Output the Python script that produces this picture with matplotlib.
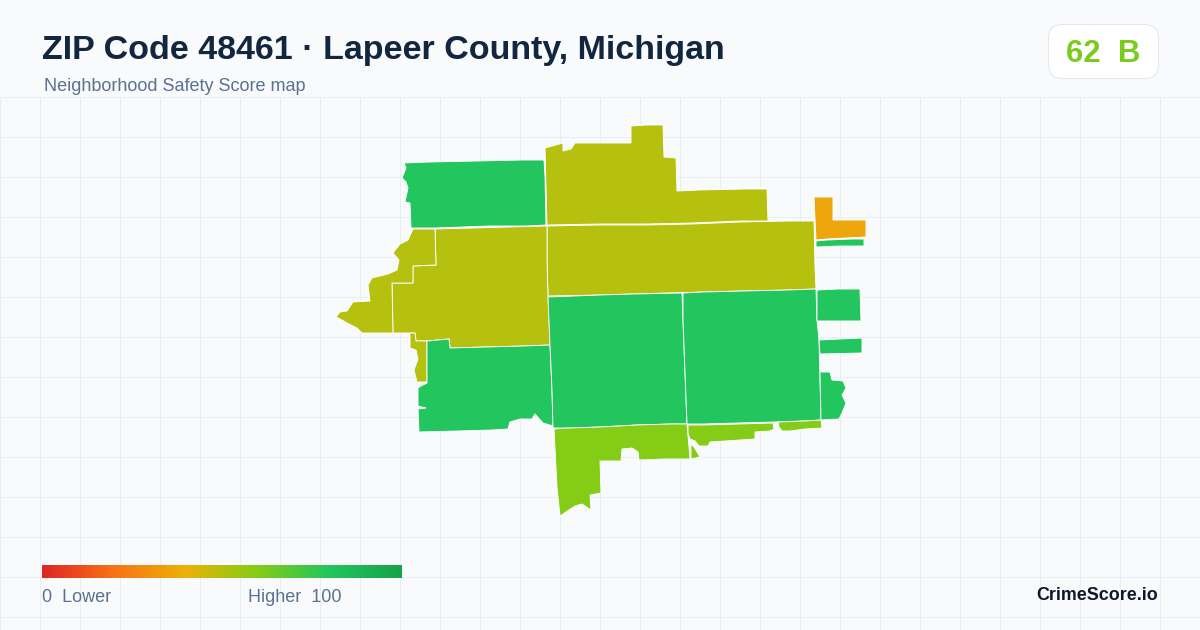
import numpy as np
import matplotlib
matplotlib.use("Agg")
import matplotlib.pyplot as plt
from matplotlib.colors import LinearSegmentedColormap
from matplotlib.patches import FancyBboxPatch, Polygon

TITLE = "ZIP Code 48461 · Lapeer County, Michigan"
SUBTITLE = "Neighborhood Safety Score map"
SCORE = 62
GRADE = "B"
BRAND = "CrimeScore.io"
SCALE_LOW = "0  Lower"
SCALE_HIGH = "Higher  100"
SCALE_COLORS = ["#dc2626", "#f97316", "#eab308", "#84cc16", "#22c55e", "#16a34a"]

# Map geometry (image pixel coordinates)
area_nw = [(404,163),(430,162),(476,161),(522,160),(544,160),(545,177),(546,225),(527,226),(490,226),(435,228),(411,228),(410,203),(405,202),(408,188),(406,182),(402,178),(406,168)]
area_n = [(545,148),(563,143),(563,151),(571,149),(575,143),(631,143),(631,126),(647,125),(663,125),(664,157),(676,158),(677,191),(700,190),(745,189),(767,189),(768,221),(740,221),(692,223),(647,224),(600,224),(547,225)]
area_ne_mid = [(547,226),(600,225),(647,225),(692,224),(740,222),(790,221),(814,221),(815,267),(816,289),(788,290),(743,291),(703,292),(668,293),(633,294),(600,295),(548,296),(547,263)]
area_w_mid = [(435,229),(547,226),(547,260),(548,296),(550,345),(524,346),(486,347),(450,348),(449,339),(427,341),(416,341),(415,333),(393,333),(392,283),(413,283),(413,266),(436,265)]
area_w = [(413,229),(435,229),(436,265),(413,266),(413,283),(392,283),(393,333),(362,333),(357,328),(347,323),(342,320),(336,317),(340,312),(347,311),(353,302),(370,301),(368,285),(372,278),(388,274),(397,270),(399,260),(393,253),(400,244),(408,240)]
area_strip = [(410,333),(415,333),(416,341),(427,341),(427,382),(417,382),(414,370),(418,359),(416,350),(410,348)]
area_sw = [(427,341),(449,339),(450,348),(486,347),(524,346),(550,345),(552,390),(553,426),(543,423),(535,414),(532,419),(520,419),(510,422),(508,429),(492,430),(458,431),(419,432),(418,409),(426,408),(418,406),(418,388),(421,386),(427,383)]
area_c = [(548,297),(600,295),(633,294),(682,293),(683,320),(687,424),(671,424),(637,425),(600,427),(570,428),(553,428),(552,390),(550,345)]
area_e = [(683,293),(703,292),(743,291),(788,290),(816,289),(817,320),(819,340),(821,420),(805,421),(773,422),(738,423),(704,424),(687,424),(683,320)]
area_s = [(554,429),(570,428),(600,427),(637,425),(671,424),(687,424),(690,459),(664,459),(639,460),(638,452),(632,448),(622,449),(621,461),(600,461),(601,493),(590,495),(591,510),(582,504),(575,506),(560,516),(557,487)]
area_se1 = [(688,425),(704,425),(738,424),(773,423),(774,429),(770,431),(755,432),(755,439),(710,442),(708,446),(699,446),(695,441),(690,439),(688,433)]
area_se1b = [(691,444),(694,447),(700,457),(691,459)]
area_se2 = [(778,422),(805,421),(821,420),(822,428),(805,429),(790,431),(782,431),(779,427)]
area_e_blob = [(820,372),(830,372),(832,380),(843,381),(846,388),(842,395),(846,403),(842,413),(839,419),(821,420)]
area_e_bar1 = [(819,340),(840,339),(862,338),(862,353),(820,354)]
area_e_bar2 = [(817,290),(838,289),(860,289),(861,321),(817,321)]
area_e_thin = [(816,241),(827,240),(852,239),(864,239),(864,246),(840,246),(816,247)]
area_ne = [(814,197),(833,197),(833,220),(866,220),(866,237),(827,239),(816,240)]

OLIVE, LIME, GREEN, ORANGE = 50, 60, 80, 36
areas = [
    (area_nw, GREEN), (area_n, OLIVE), (area_ne_mid, OLIVE), (area_w_mid, OLIVE),
    (area_w, OLIVE), (area_strip, OLIVE), (area_sw, GREEN), (area_c, GREEN),
    (area_e, GREEN), (area_s, LIME), (area_se1, LIME), (area_se1b, LIME),
    (area_se2, LIME), (area_e_blob, GREEN), (area_e_bar1, GREEN),
    (area_e_bar2, GREEN), (area_e_thin, GREEN), (area_ne, ORANGE),
]

plt.rcParams["font.family"] = ["Liberation Sans", "DejaVu Sans"]
cmap = LinearSegmentedColormap.from_list("score", SCALE_COLORS)

fig = plt.figure(figsize=(12, 6.3), dpi=100, facecolor="#f8fafc")
ax = fig.add_axes([0, 0, 1, 1])
ax.set_axis_off()

GRID = "#e8eff4"
for x in np.arange(0, 1200, 40):
    ax.plot([x, x], [96.5, 630], color=GRID, lw=0.72, zorder=1, solid_capstyle="butt")
for y in np.arange(96.5, 630, 40):
    ax.plot([0, 1200], [y, y], color=GRID, lw=0.72, zorder=1, solid_capstyle="butt")

for pts, score in areas:
    ax.add_patch(Polygon(pts, closed=True, facecolor=cmap(score / 100),
                         edgecolor="#ffffff", lw=0.65, joinstyle="round", zorder=2))

ax.text(42, 50.5, TITLE, fontsize=24.5, fontweight="bold", color="#12263f", va="center", ha="left", zorder=5)
ax.text(44, 86.5, SUBTITLE, fontsize=12.95, color="#5a7191", va="center", ha="left", zorder=5)

ax.add_patch(FancyBboxPatch((1048.5, 24.5), 110, 54, boxstyle="round,pad=0,rounding_size=14",
                            facecolor="#ffffff", edgecolor="#e2e8f0", lw=0.72, zorder=3))
ax.text(1103, 53.5, f"{SCORE}  {GRADE}", fontsize=22.4, fontweight="bold",
        color=cmap(SCORE / 100), va="center", ha="center", zorder=5)

gradient = np.linspace(0, 1, 360).reshape(1, -1)
ax.imshow(gradient, cmap=cmap, extent=(42, 402, 578, 565), aspect="auto", zorder=3, interpolation="bilinear")
ax.text(42, 598, SCALE_LOW, fontsize=12.95, color="#5a7191", va="center", ha="left", zorder=5)
ax.text(341.5, 598, SCALE_HIGH, fontsize=12.95, color="#5a7191", va="center", ha="right", zorder=5)
ax.text(1158, 595, BRAND, fontsize=12.9, fontweight="bold", color="#0f172a", va="center", ha="right", zorder=5)

ax.set_xlim(0, 1200)
ax.set_ylim(630, 0)
fig.savefig("out.png", dpi=100, facecolor=fig.get_facecolor())
